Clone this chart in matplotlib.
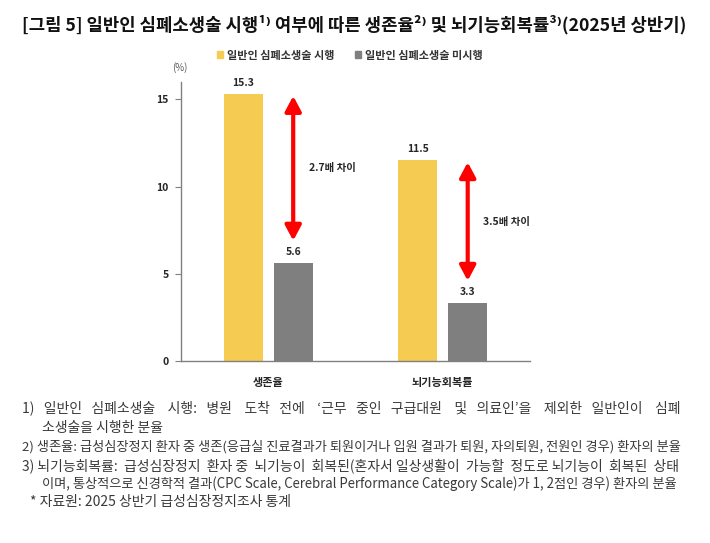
import matplotlib
matplotlib.use('Agg')
import matplotlib.pyplot as plt
from matplotlib.patches import Patch
import numpy as np

plt.rcParams['font.family'] = ['Noto Sans CJK KR', 'DejaVu Sans']

# data
categories = ['생존율', '뇌기능회복률']
cpr_yes = [15.3, 11.5]
cpr_no = [5.6, 3.3]
series_names = ['일반인 심폐소생술 시행', '일반인 심폐소생술 미시행']
gap_labels = ['2.7배 차이', '3.5배 차이']
yticks = [0, 5, 10, 15]

title = '[그림 5] 일반인 심폐소생술 시행¹⁾ 여부에 따른 생존율²⁾ 및 뇌기능회복률³⁾(2025년 상반기)'
footnotes = [
    '1) 일반인 심폐소생술 시행: 병원 도착 전에 ‘근무 중인 구급대원 및 의료인’을 제외한 일반인이 심폐',
    '소생술을 시행한 분율',
    '2) 생존율: 급성심장정지 환자 중 생존(응급실 진료결과가 퇴원이거나 입원 결과가 퇴원, 자의퇴원, 전원인 경우) 환자의 분율',
    '3) 뇌기능회복률: 급성심장정지 환자 중 뇌기능이 회복된(혼자서 일상생활이 가능할 정도로 뇌기능이 회복된 상태',
    '이며, 통상적으로 신경학적 결과(CPC Scale, Cerebral Performance Category Scale)가 1, 2점인 경우) 환자의 분율',
    '* 자료원: 2025 상반기 급성심장정지조사 통계',
]

W, H = 710, 543
YELLOW = '#F6CB52'
GRAY = '#7F7F7F'


def fx(px):
    return px / W


def fy(px):
    return 1 - px / H


fig = plt.figure(figsize=(W / 100, H / 100), dpi=100)
renderer = fig.canvas.get_renderer()


def text_width(t, s):
    old = t.get_text()
    t.set_text(s)
    w = t.get_window_extent(renderer).width
    t.set_text(old)
    return w


def fit(t, target):
    w = t.get_window_extent(renderer).width
    t.set_fontsize(t.get_fontsize() * target / w)


def justify(t, target):
    s = t.get_text()
    w = t.get_window_extent(renderer).width
    if w >= target:
        fit(t, target)
        return
    sw = (text_width(t, '가' + ' ' * 10 + '가') - text_width(t, '가가')) / 10
    words = s.split(' ')
    gaps = len(words) - 1
    extra = int(round((target - w) / sw))
    out = words[0]
    for i in range(gaps):
        n = 1 + (extra * (i + 1)) // gaps - (extra * i) // gaps
        out += ' ' * n + words[i + 1]
    t.set_text(out)


# chart
ax = fig.add_axes([fx(181), fy(361), fx(349), (361 - 82) / H])
x = np.arange(len(categories))
bw, off = 0.223, 0.143
ax.bar(x - off, cpr_yes, bw, color=YELLOW)
ax.bar(x + off, cpr_no, bw, color=GRAY)

for xs, vals in ((x - off, cpr_yes), (x + off, cpr_no)):
    for xi, v in zip(xs, vals):
        ax.text(xi, v + 0.35, f'{v:.1f}', ha='center', va='bottom',
                fontsize=7.5, fontweight='bold', color='#262626')

# red double arrows between the two bars of each group
arrow_spans = [(15.2, 6.9), (11.4, 4.6)]
for xi, (top, bot), lab in zip(x + off, arrow_spans, gap_labels):
    ax.annotate('', xy=(xi, top), xytext=(xi, bot),
                arrowprops=dict(arrowstyle='<|-|>,head_length=0.6,head_width=0.32',
                                color='#FF0000', lw=3, shrinkA=0, shrinkB=0,
                                mutation_scale=15))
    ax.text(xi + 0.09, (top + bot) / 2, lab, ha='left', va='center',
            fontsize=7.5, fontweight='bold', color='#262626')

ax.set_xlim(-0.5, 1.5)
ax.set_ylim(0, 16)
for side in ('top', 'right'):
    ax.spines[side].set_visible(False)
for side in ('left', 'bottom'):
    ax.spines[side].set_color('#808080')
    ax.spines[side].set_linewidth(1)
ax.set_yticks(yticks)
ax.set_yticklabels([str(v) for v in yticks], fontweight='bold', fontsize=7.5, color='#262626')
ax.tick_params(axis='y', length=4, width=0.8, color='#808080', pad=5)
ax.set_xticks(x)
ax.set_xticklabels(categories, fontweight='bold', fontsize=8, color='#262626')
ax.tick_params(axis='x', length=0, pad=11)

fig.text(fx(180), fy(68), '(%)', ha='center', va='center', fontsize=7, color='#595959')

leg = fig.legend(handles=[Patch(color=YELLOW), Patch(color=GRAY)], labels=series_names,
                 loc='center', bbox_to_anchor=(fx(350), fy(55)), ncol=2, frameon=False,
                 prop=dict(weight='bold', size=8), handlelength=0.55, handleheight=0.55,
                 handletextpad=0.35, columnspacing=1.8)
for t in leg.get_texts():
    t.set_color('#333333')

# title
tt = fig.text(fx(22), fy(25), title, ha='left', va='center', fontsize=12,
              fontweight='bold', color='#111111')
fit(tt, 664)

# footnotes
starts = [22, 42, 22, 22, 42, 30]
rows = [408, 428, 447, 466, 484, 502]
spread = [True, False, True, True, True, False]
for s, x0, y0, sp in zip(footnotes, starts, rows, spread):
    t = fig.text(fx(x0), fy(y0), s, ha='left', va='center', fontsize=10, color='#3a3a3a')
    if sp:
        justify(t, 680 - x0)

fig.savefig('out.png', dpi=100)
